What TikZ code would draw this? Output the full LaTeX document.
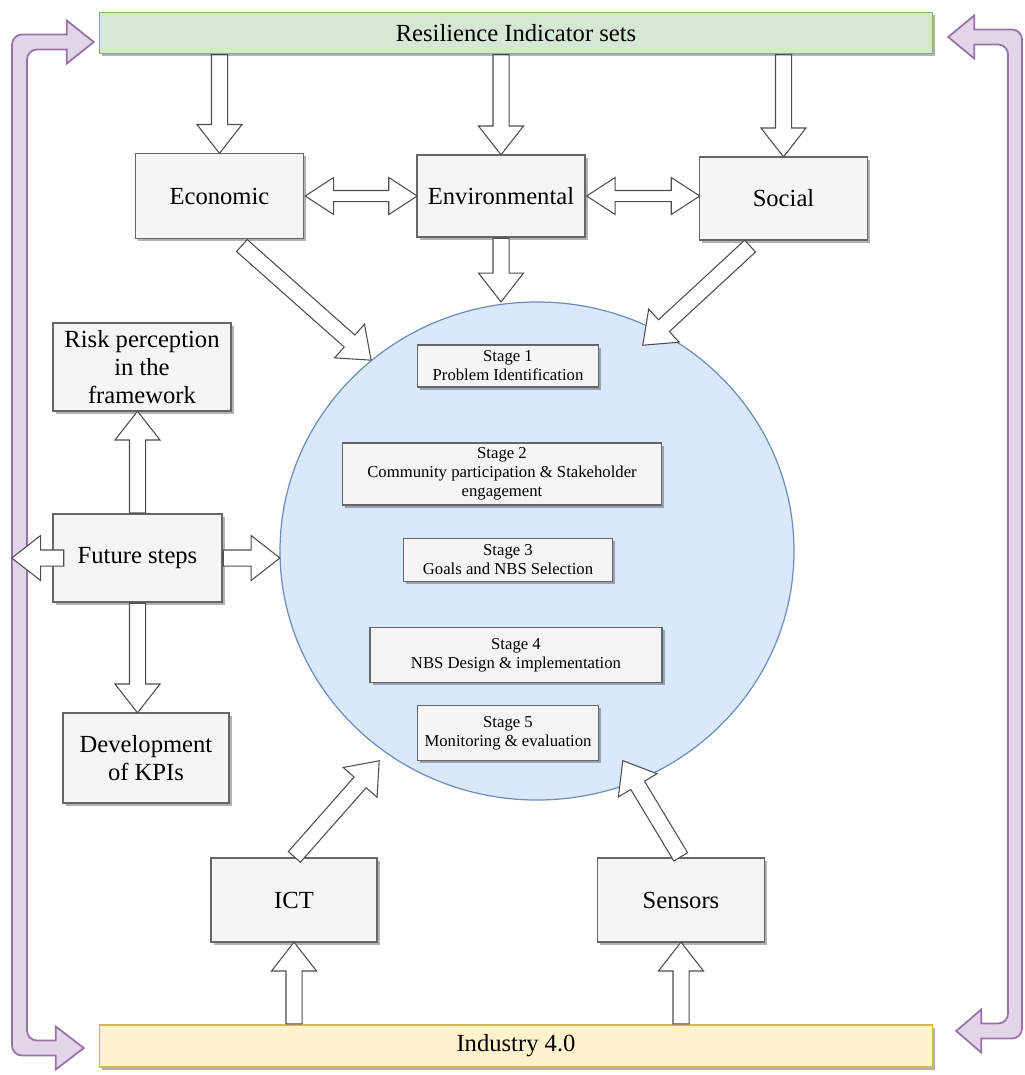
\documentclass[tikz,border=0pt]{standalone}
\usepackage{fontspec}
\setmainfont{Liberation Serif}
\usetikzlibrary{arrows.meta,positioning,calc,shapes.geometric,shapes.arrows,shadows}
\definecolor{rsgreen}{HTML}{D5E8D4}
\definecolor{rsgreenline}{HTML}{82B366}
\definecolor{rsyellow}{HTML}{FFF2CC}
\definecolor{rsyellowline}{HTML}{D6B656}
\definecolor{rsblue}{HTML}{DAE8FC}
\definecolor{rsblueline}{HTML}{6C8EBF}
\definecolor{rslilac}{HTML}{E1D5E7}
\definecolor{rslilacline}{HTML}{9673A6}
\definecolor{rspanel}{HTML}{F5F5F5}
\definecolor{rsink}{HTML}{666666}
\definecolor{rsarrow}{HTML}{4D4D4D}
\tikzset{
  shd/.style={drop shadow={shadow xshift=0.5mm, shadow yshift=-0.5mm, fill=black, opacity=0.3}},
  bar/.style={shd, minimum width=16.66cm, minimum height=0.82cm, inner sep=0pt, line width=0.8pt, font=\fontsize{14}{16}\selectfont},
  blk/.style={shd, draw=rsink, fill=rspanel, line width=0.8pt, align=center, minimum width=3.36cm, minimum height=1.7cm, inner sep=2pt, font=\fontsize{14}{16}\selectfont},
  stg/.style={shd, draw=rsink, fill=rspanel, line width=0.8pt, align=center, inner sep=1pt, font=\fontsize{9.5}{10.8}\selectfont},
  hollow/.style={single arrow, draw=rsarrow, fill=white, line width=0.6pt, inner xsep=0pt, inner ysep=1.5mm, single arrow head extend=2.9mm, single arrow tip angle=76, anchor=tail},
  twoway/.style={double arrow, draw=rsarrow, fill=white, line width=0.6pt, inner xsep=0pt, inner ysep=1mm, double arrow head extend=2.6mm, double arrow tip angle=66, anchor=tip 2},
  link/.style={draw=rslilacline, fill=rslilac, line width=1pt},
}
% block arrow stretched from #2 to #3
\newcommand{\blkarr}[3][hollow]{%
  \path let \p1=($(#3)-(#2)$), \n1={veclen(\x1,\y1)}, \n2={atan2(\y1,\x1)} in
    node[#1, minimum height=\n1, rotate=\n2] at (#2) {};}

\begin{document}
\begin{tikzpicture}[font=\fontsize{14}{16}\selectfont]
  \useasboundingbox (0,0) rectangle (20.5,-21.5);
  \node[bar, draw=rsgreenline, fill=rsgreen] (top) at (10.32,-0.66) {Resilience Indicator sets};
  \node[bar, draw=rsyellowline, fill=rsyellow, minimum height=0.84cm] (ind) at (10.32,-20.92) {Industry 4.0};

  % lilac return arrows
  \coordinate (lt) at ($(top.west)+(-0.1,-0.18)$);
  \coordinate (lb) at ($(ind.west)+(-0.3,-0.04)$);
  \coordinate (rt) at ($(top.east)+(0.3,-0.08)$);
  \coordinate (rb) at ($(ind.east)+(0.46,0.3)$);
  \draw[link] (lt) -- ++(-0.54,0.43) -- ++(0,-0.28) [rounded corners=2mm] -- (0.24,-0.69) -- (0.24,-21.11)
    [sharp corners] -- ($(lb)+(-0.56,-0.15)$) -- ++(0,-0.28) -- (lb) -- ++(-0.56,0.43) -- ++(0,-0.28)
    [rounded corners=2mm] -- (0.54,-20.81) -- (0.54,-0.99)
    [sharp corners] -- ($(lt)+(-0.54,-0.15)$) -- ++(0,-0.28) -- cycle;
  \draw[link] (rt) -- ++(0.52,0.43) -- ++(0,-0.28) [rounded corners=2mm] -- (20.44,-0.59) -- (20.44,-20.77)
    [sharp corners] -- ($(rb)+(0.5,-0.15)$) -- ++(0,-0.28) -- (rb) -- ++(0.5,0.43) -- ++(0,-0.28)
    [rounded corners=2mm] -- (20.16,-20.47) -- (20.16,-0.89)
    [sharp corners] -- ($(rt)+(0.52,-0.15)$) -- ++(0,-0.28) -- cycle;

  \node[blk] (eco) at (4.39,-3.92) {Economic};
  \node[blk, minimum height=1.64cm] (env) at (10.02,-3.92) {Environmental};
  \node[blk, minimum height=1.66cm] (soc) at (15.67,-3.97) {Social};

  \node[ellipse, draw=rsblueline, fill=rsblue, line width=0.7pt, minimum width=10.28cm, minimum height=9.96cm, inner sep=0pt] (sys) at (10.74,-11.02) {};
  \foreach \n/\x/\y/\w/\h/\txt in {1/10.16/-7.32/3.62/0.84/{Problem Identification},
      2/10.04/-9.48/6.38/1.24/{Community participation \& Stakeholder\\engagement},
      3/10.16/-11.2/4.18/0.86/{Goals and NBS Selection},
      4/10.32/-13.1/5.84/1.1/{NBS Design \& implementation},
      5/10.16/-14.66/3.62/1.1/{Monitoring \& evaluation}}
    \node[stg, minimum width=\w cm, minimum height=\h cm] (s\n) at (\x,\y) {Stage \n\\\txt};

  \node[blk, minimum width=3.56cm, minimum height=1.76cm] (risk) at (2.84,-7.34) {Risk perception\\in the\\framework};
  \node[blk, minimum width=3.38cm, minimum height=1.76cm] (fut) at (2.75,-11.16) {Future steps};
  \node[blk, minimum width=3.32cm, minimum height=1.8cm] (dev) at (2.92,-15.16) {Development\\of KPIs};
  \node[blk, minimum width=3.32cm, minimum height=1.68cm] (ict) at (5.88,-18.0) {ICT};
  \node[blk, minimum width=3.34cm, minimum height=1.68cm] (sen) at (13.62,-18.0) {Sensors};

  % hollow connectors
  \blkarr{top.south -| eco.north}{eco.north}
  \blkarr{top.south -| env.north}{env.north}
  \blkarr{top.south -| soc.north}{soc.north}
  \blkarr[twoway]{eco.east}{env.west}
  \blkarr[twoway]{env.east}{env.east -| soc.west}
  \coordinate (ea) at ($(eco.south)+(0.44,-0.12)$);
  \coordinate (sa) at ($(soc.south)+(-0.66,-0.1)$);
  \coordinate (st) at ($(sys.center)+(2.12,4.12)$);
  \blkarr{ea}{sys.131}
  \blkarr{env.south}{env.south |- sys.north}
  \blkarr{sa}{st}
  \blkarr{fut.north}{fut.north |- risk.south}
  \blkarr{fut.south}{fut.south |- dev.north}
  \blkarr{fut.east}{fut.east -| sys.west}
  \coordinate (ft) at ($(fut.west)+(0.24,0)$);
  \coordinate (fl) at ($(fut.west)+(-0.8,0)$);
  \blkarr{ft}{fl}
  \blkarr{ind.north -| ict.south}{ict.south}
  \blkarr{ind.north -| sen.south}{sen.south}
  \coordinate (it) at ($(sys.center)+(-3.16,-4.2)$);
  \coordinate (nt) at ($(sys.center)+(1.72,-4.2)$);
  \blkarr{ict.north}{it}
  \blkarr{sen.north}{nt}
\end{tikzpicture}
\end{document}
